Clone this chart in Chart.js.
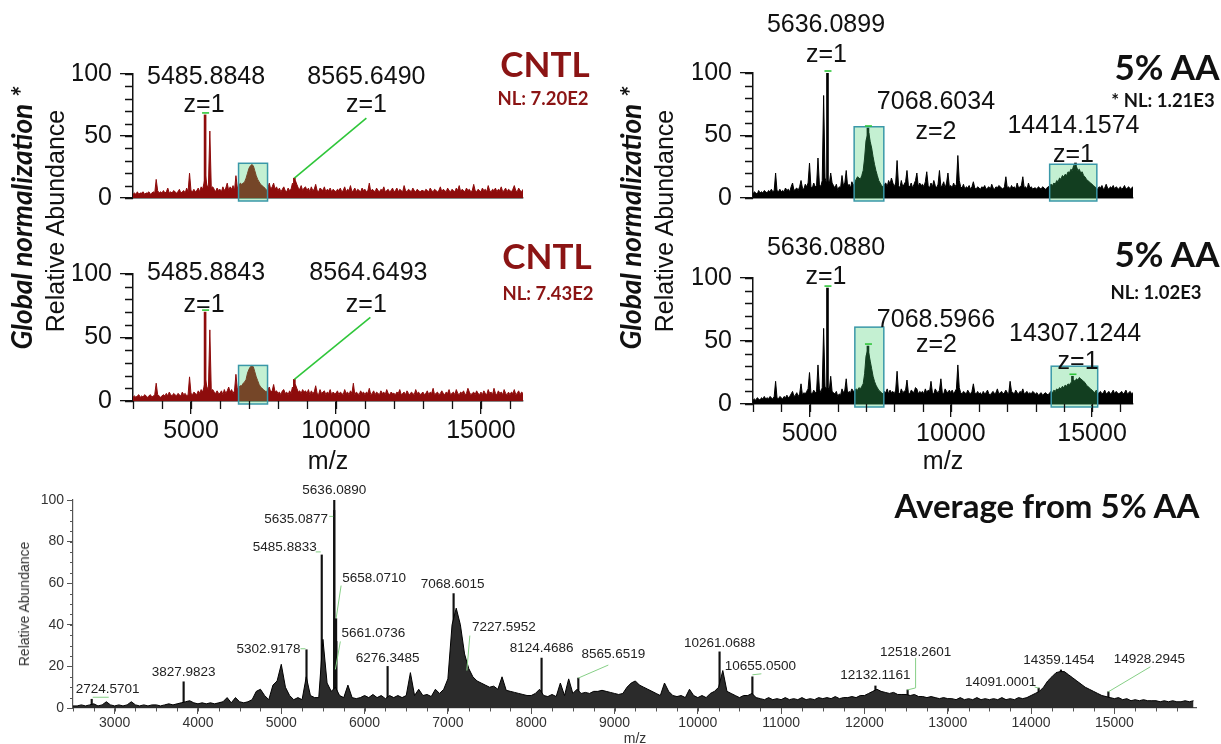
<!DOCTYPE html>
<html>
<head>
<meta charset="utf-8">
<script src="https://cdn.jsdelivr.net/npm/chart.js@4.4.1/dist/chart.umd.min.js"></script>
<style>
  body { margin: 0; background: #fff; width: 1221px; height: 744px; position: relative; overflow: hidden; font-family: "Liberation Sans", Arial, sans-serif; }
  canvas { position: absolute; }
  .lbl { position: absolute; white-space: nowrap; transform: translate(-50%, -50%); line-height: 1; color: #111; }
  .rot { transform: translate(-50%, -50%) rotate(-90deg); }
  .ttl { font-family: Lato, sans-serif; font-weight: 700; }
</style>
</head>
<body>
<canvas id="cntl1" width="600" height="225" style="left:0;top:0"></canvas>
<canvas id="cntl2" width="600" height="255" style="left:0;top:215px"></canvas>
<canvas id="aa1" width="611" height="225" style="left:610px;top:0"></canvas>
<canvas id="aa2" width="611" height="255" style="left:610px;top:215px"></canvas>
<canvas id="avg" width="1221" height="274" style="left:0;top:470px"></canvas>

<div class="lbl rot ttl" style="left:21px;top:218px;font-size:28px;font-style:italic">Global normalization *</div>
<div class="lbl rot" style="left:55px;top:221px;font-size:25px">Relative Abundance</div>
<div class="lbl rot ttl" style="left:630px;top:218px;font-size:28px;font-style:italic">Global normalization *</div>
<div class="lbl rot" style="left:664px;top:221px;font-size:25px">Relative Abundance</div>

<div class="lbl ttl" style="left:545px;top:63px;font-size:35px;color:#8b1414">CNTL</div>
<div class="lbl ttl" style="left:543px;top:98px;font-size:18.5px;color:#8b1414">NL: 7.20E2</div>
<div class="lbl ttl" style="left:547px;top:255px;font-size:35px;color:#8b1414">CNTL</div>
<div class="lbl ttl" style="left:548px;top:293px;font-size:18.5px;color:#8b1414">NL: 7.43E2</div>
<div class="lbl ttl" style="left:1167px;top:66px;font-size:35px">5% AA</div>
<div class="lbl ttl" style="left:1163px;top:100px;font-size:18.5px">* NL: 1.21E3</div>
<div class="lbl ttl" style="left:1156px;top:292px;font-size:18.5px">NL: 1.02E3</div>
<div class="lbl ttl" style="left:1167px;top:253px;font-size:35px">5% AA</div>
<div class="lbl" style="left:328px;top:460px;font-size:25px">m/z</div>
<div class="lbl" style="left:943px;top:460px;font-size:25px">m/z</div>

<div class="lbl ttl" style="left:1047px;top:505px;font-size:33px">Average from 5% AA</div>
<div class="lbl rot" style="left:24px;top:604px;font-size:14px;color:#333">Relative Abundance</div>
<div class="lbl" style="left:635px;top:738px;font-size:14px;color:#333">m/z</div>

<script>
// profile traces are sampled every 50 m/z
const PANEL_MZ_START = 3000;
const PANEL_MZ_STEP = 50;
const AVG_MZ_START = 2500;
const AVG_MZ_STEP = 50;

const panelTicksX = [5000, 10000, 15000];
const panelTicksY = [0, 50, 100];
const avgTicksX = [3000, 4000, 5000, 6000, 7000, 8000, 9000, 10000, 11000, 12000, 13000, 14000, 15000];
const avgTicksY = [0, 20, 40, 60, 80, 100];

// CNTL, replicate 1
const cntl1Int = [
  3,4,3,5,3,4,4,5,3,4, 4,5,3,4,5,4,15,6,4,5,          // 3000
  4,6,4,5,8,4,5,4,6,5, 4,5,7,4,5,6,4,8,5,20,          // 4000
  6,5,7,5,6,8,5,9,7,12, 18,10,9,54,8,9,7,5,8,6,       // 5000
  7,5,9,6,8,12,6,9,7,10, 6,18,8,10,12,11,12,13,16,20, // 6000
  24,26,27,26,22,18,15,13,11,10, 9,8,6,8,12,7,9,12,7,9, // 7000
  6,8,5,7,9,6,5,8,6,7, 12,9,14,11,8,7,10,6,8,9,       // 8000
  6,8,5,9,6,7,11,6,5,8, 7,6,9,5,7,6,8,5,7,6,          // 9000
  5,7,6,8,5,6,9,5,7,6, 10,5,6,8,5,7,6,5,8,6,          // 10000
  7,5,6,12,5,7,6,5,8,6, 5,7,6,9,5,6,7,5,6,8,          // 11000
  5,6,8,5,7,6,5,10,6,5, 7,6,5,8,6,5,7,6,5,6,          // 12000
  6,5,7,6,5,8,6,5,7,6, 5,6,9,5,7,6,5,8,6,5,           // 13000
  7,6,5,8,6,10,5,7,6,5, 8,6,7,5,6,11,6,5,7,6,         // 14000
  5,8,6,7,5,10,6,5,7,6, 8,5,7,6,9,5,6,8,5,7,          // 15000
  6,5,7,10,6,5,8,6,5,7                                // 16000
];
const cntl1PeakMz = [5485.8848, 8565.6490];
const cntl1PeakInt = [67, 16];
const cntl1Charge = [1, 1];

// CNTL, replicate 2
const cntl2Int = [
  3,4,3,4,5,3,4,3,5,4, 3,4,5,3,4,5,14,5,4,3,          // 3000
  4,5,4,6,4,7,5,4,6,5, 4,6,5,4,7,5,6,4,5,19,          // 4000
  6,5,7,6,5,8,6,9,7,11, 17,11,9,56,8,9,7,6,8,6,       // 5000
  6,8,5,9,6,8,11,7,9,6, 8,21,9,11,12,12,14,15,17,22,  // 6000
  25,27,28,27,23,19,16,13,11,10, 9,8,7,9,11,7,8,13,7,8, // 7000
  6,7,5,8,9,6,7,5,8,6, 11,9,13,10,7,8,6,9,7,8,        // 8000
  6,9,5,8,6,7,12,6,5,9, 6,7,8,5,7,6,9,5,7,6,          // 9000
  6,8,5,7,6,5,9,6,7,5, 8,6,14,5,7,6,5,8,6,7,          // 10000
  5,7,6,10,5,6,8,5,7,6, 5,8,6,7,5,9,6,5,7,6,          // 11000
  6,5,7,6,9,5,6,7,5,8, 6,5,7,6,5,9,6,7,5,6,           // 12000
  7,5,6,8,5,7,6,10,5,6, 7,5,6,8,6,5,7,6,9,5,          // 13000
  6,7,5,9,6,5,7,6,8,5, 6,10,7,5,6,7,5,8,6,5,          // 14000
  7,5,8,6,5,9,6,7,5,10, 6,5,8,6,7,5,9,6,5,7,          // 15000
  5,7,6,9,5,6,8,5,7,6                                 // 16000
];
const cntl2PeakMz = [5485.8843, 8564.6493];
const cntl2PeakInt = [70, 17];
const cntl2Charge = [1, 1];

// 5% AA, replicate 1
const aa1Int = [
  3,5,4,3,6,4,5,4,6,5, 4,6,5,7,5,6,20,6,5,7,          // 3000
  5,6,5,8,6,7,5,9,12,6, 7,8,6,9,14,8,7,11,9,12,       // 4000
  28,9,8,12,9,10,32,11,9,14, 82,16,12,14,11,20,12,10,8,11, // 5000
  6,9,8,18,10,12,22,9,11,8, 13,10,12,15,17,16,15,18,22,32, // 6000
  46,50,52,45,40,33,27,22,18,14, 12,10,9,11,12,9,14,11,16,12, // 7000
  9,12,30,10,8,14,9,11,13,22, 10,9,12,8,11,14,20,9,12,10, // 8000
  11,9,13,21,10,8,12,9,14,10, 8,11,22,9,10,13,8,12,20,9, // 9000
  10,8,12,9,11,34,14,9,8,11, 7,9,8,10,7,9,13,8,7,9,   // 10000
  8,7,9,8,10,7,8,9,7,11, 8,7,9,8,10,9,8,7,9,17,       // 11000
  8,9,7,10,8,9,7,12,8,9, 10,17,8,9,7,12,8,9,7,8,      // 12000
  8,7,9,8,7,9,8,7,8,9, 10,11,10,12,11,14,13,16,15,18, // 13000
  17,19,18,21,20,23,22,26,24,25, 22,23,20,21,18,17,15,14,13,12, // 14000
  11,10,9,8,7,9,8,10,7,8, 11,8,7,9,8,10,7,9,8,7,      // 15000
  9,7,8,10,7,8,9,7,8,9                                // 16000
];
const aa1PeakMz = [5636.0899, 7068.6034, 14414.1574];
const aa1PeakInt = [100, 56, 28];
const aa1Charge = [1, 2, 1];

// 5% AA, replicate 2
const aa2Int = [
  3,4,3,5,4,3,5,4,6,4, 5,4,6,5,4,6,18,5,4,6,          // 3000
  5,4,6,5,7,5,6,8,10,6, 7,9,6,8,16,7,9,8,10,12,       // 4000
  25,9,8,11,9,10,31,12,9,13, 60,14,12,13,11,22,10,9,8,10, // 5000
  6,8,7,12,9,11,20,8,10,9, 12,10,11,12,11,13,12,14,16,24, // 6000
  38,42,40,34,28,22,18,15,13,11, 10,9,8,10,9,12,8,11,9,10, // 7000
  8,11,26,9,8,12,9,10,11,19, 9,8,11,10,9,13,12,8,10,9, // 8000
  10,8,12,9,11,10,18,9,8,12, 10,9,11,20,9,8,12,10,9,11, // 9000
  9,11,8,10,12,31,13,9,8,10, 9,8,11,9,8,10,16,9,8,10, // 10000
  8,9,7,10,8,9,11,8,7,9, 10,8,9,12,8,9,10,8,9,11,     // 11000
  9,8,18,10,9,8,11,9,8,10, 9,12,8,9,10,8,9,8,10,9,    // 12000
  8,9,7,8,9,7,8,9,8,7, 9,10,9,11,10,12,11,13,12,14,   // 13000
  13,15,14,16,15,17,16,19,18,20, 19,21,20,19,18,17,15,14,13,12, // 14000
  11,10,9,11,8,9,10,8,9,11, 8,9,10,8,9,11,8,10,9,8,   // 15000
  9,10,8,9,11,8,9,10,8,9                              // 16000
];
const aa2PeakMz = [5636.0880, 7068.5966, 14307.1244];
const aa2PeakInt = [92, 46, 22];
const aa2Charge = [1, 2, 1];

// averaged 5% AA spectrum
const avgInt = [
  1,1,1.5,1,1.5,2,1,1.5,3,1.5, 1,1.5,1,1.5,3,1.5,1,1.5,1,1.5,        // 2500
  1.5,1,1.5,2,1.5,2,2.5,3,3.5,2.5, 2,2.5,2,2.5,2,2.5,3,5,2.5,5,      // 3500
  3,2.5,3,4,8,9,6,4,11,13, 21,10,6,4,5,4,15,6,5,5,                   // 4500
  33,12,8,10,6,5,11,5,4.5,5, 6,5,6.5,5,6,4.5,6,5,6,5,                // 5500
  6,17,6,9,6,6.5,5.5,9,7,9, 14,40,48,40,26,19,15,13,12,11,           // 6500
  10,10.5,9,15,8.5,8,7.5,7,6.5,6, 6,7,9,6,5.5,6.5,5.5,12,6,14,       // 7500
  7,9,7,7.5,7,8,8,8.5,8,7.5, 7,6.5,7,10,12,13,11,10,9,8,             // 8500
  7,6,12,8,6,5.5,6,5,9,6, 5,6,5,7,8,10,18,8,7,6,                     // 9500
  5,6,6,7,5,4.5,4,5,4,4.5, 4,5,4,4.5,4,5,4,4.5,4,5,                  // 10500
  4.5,5,4.5,5.5,4.5,5,5,5.5,5,6, 6,7,8,9,8,7.5,7,7.5,6.5,6.5,        // 11500
  6.5,6,6.5,5.5,5.5,5,5.5,5,4.5,5, 4.5,4.5,4,5,4,4.5,4,5,4,4.5,      // 12500
  4,4.5,4,5,4,4.5,4,5,4.5,5, 6,7,8,10,13,15,17,17.5,17.5,16,         // 13500
  14.5,13,11.5,10,9,8,7,6,5.5,5, 4.5,5,4,4.5,3.5,4,3.5,4,3.5,3.5,    // 14500
  3.5,3,3.5,3,3.5,3,3,3.5,3,3.5                                      // 15500
];
const avgPeakMz = [2724.5701, 3827.9823, 5302.9178, 5485.8833, 5635.0877, 5636.0890, 5658.0710,
  5661.0736, 6276.3485, 7068.6015, 7227.5952, 8124.4686, 8565.6519, 10261.0688, 10655.0500,
  12132.1161, 12518.2601, 14091.0001, 14359.1454, 14928.2945];
const avgPeakInt = [4.2, 12.6, 28, 73.6, 95, 100, 43, 32, 20, 55, 18, 24, 14.4, 27, 15, 10.6, 8.7, 9.6, 18.3, 7.8];

// label placement, in px from the apex of each peak
const cntl1Notes = [
  { peak: 0, text: [1, -38], z: [-1, -10], mark: true },
  { peak: 1, text: [72, -101], z: [72, -73], leader: [[0, 0], [72, -60]] }
];
const cntl2Notes = [
  { peak: 0, text: [1, -39], z: [-1, -7], mark: true },
  { peak: 1, text: [74, -106], z: [72, -74], leader: [[0, 0], [76, -62]] }
];
const aa1Notes = [
  { peak: 0, text: [-1.5, -48], z: [-1, -18], mark: true },
  { peak: 1, text: [68, -26], z: [68, 4], mark: true },
  { peak: 2, text: [-2, -37], z: [-2, -8] }
];
const aa2Notes = [
  { peak: 0, text: [-1.5, -40], z: [-1.5, -11], mark: true },
  { peak: 1, text: [68, -26], z: [68.5, -1], mark: true },
  { peak: 2, text: [2.6, -42], z: [5.6, -14], mark: true }
];
const avgNotes = [
  { peak: 0, text: [16, -10], leader: [[1, -2], [17, -2]] },
  { peak: 1, text: [0, -10] },
  { peak: 2, text: [-38, 0], leader: [[-6, -1], [-1, -1]] },
  { peak: 3, text: [-37, -8], leader: [[-6, -3], [-1, -3]] },
  { peak: 4, text: [-38, 9], leader: [[-5, 6], [-1, 6]] },
  { peak: 5, text: [0, -10] },
  { peak: 6, text: [38, -40], leader: [[0, 0], [5, -33]] },
  { peak: 7, text: [37, -8], leader: [[-1, 28], [4, 0]] },
  { peak: 8, text: [0, -8] },
  { peak: 9, text: [-1, -9] },
  { peak: 10, text: [37, -43], leader: [[0, 0], [3, -35]] },
  { peak: 11, text: [0, -10] },
  { peak: 12, text: [35, -24], leader: [[0, 0], [30, -13]] },
  { peak: 13, text: [0, -9] },
  { peak: 14, text: [8, -11], leader: [[0, -2], [9, -3]] },
  { peak: 15, text: [0, -11] },
  { peak: 16, text: [8, -38], leader: [[0, 0], [8, -2], [8, -32]] },
  { peak: 17, text: [-38, -6], leader: [[-4, -1], [0, 0]] },
  { peak: 18, text: [-2, -10] },
  { peak: 19, text: [41, -32], leader: [[0, 0], [42, -25]] }
];

// highlighted m/z windows
const cntl1Boxes = [{ from: 6640, to: 7640, top: 28 }];
const cntl2Boxes = [{ from: 6640, to: 7640, top: 28 }];
const aa1Boxes = [{ from: 6580, to: 7630, top: 57 }, { from: 13500, to: 15170, top: 27 }];
const aa2Boxes = [{ from: 6605, to: 7630, top: 61 }, { from: 13555, to: 15200, top: 30 }];

const SANS = '"Liberation Sans", Arial, sans-serif';
Chart.defaults.font.family = SANS;

// short tick marks between the labelled ones
const axisTicks = {
  id: 'axisTicks',
  afterDraw(chart, args, opts) {
    const { ctx, chartArea: a, scales: { x, y } } = chart;
    ctx.save();
    ctx.strokeStyle = opts.color;
    ctx.lineWidth = opts.width;
    ctx.beginPath();
    if (opts.xStep) {
      for (let v = Math.ceil(x.min / opts.xStep) * opts.xStep; v <= x.max; v += opts.xStep) {
        const px = Math.round(x.getPixelForValue(v)) + 0.5;
        ctx.moveTo(px, a.bottom);
        ctx.lineTo(px, a.bottom + opts.xLen);
      }
    }
    for (let v = Math.ceil(y.min / opts.yStep) * opts.yStep; v <= y.max; v += opts.yStep) {
      const py = Math.round(y.getPixelForValue(v)) + 0.5;
      ctx.moveTo(a.left, py);
      ctx.lineTo(a.left - opts.yLen, py);
    }
    ctx.stroke();
    ctx.restore();
  }
};

// green windows, peak labels and leader lines
const peakNotes = {
  id: 'peakNotes',
  afterDatasetsDraw(chart, args, opts) {
    const { ctx, scales: { x, y } } = chart;
    (opts.boxes || []).forEach(b => {
      const l = x.getPixelForValue(b.from), r = x.getPixelForValue(b.to);
      const t = y.getPixelForValue(b.top), bt = y.getPixelForValue(0) + 3;
      ctx.save();
      ctx.fillStyle = 'rgba(60, 205, 105, 0.3)';
      ctx.fillRect(l, t, r - l, bt - t);
      ctx.strokeStyle = '#3a98a8';
      ctx.lineWidth = 1.5;
      ctx.strokeRect(l, t, r - l, bt - t);
      ctx.restore();
    });
  },
  afterDraw(chart, args, opts) {
    const { ctx, scales: { x, y } } = chart;
    ctx.save();
    ctx.font = opts.font;
    ctx.fillStyle = opts.textColor;
    ctx.textAlign = 'center';
    ctx.textBaseline = 'middle';
    opts.notes.forEach(n => {
      const px = x.getPixelForValue(opts.mz[n.peak]);
      const py = y.getPixelForValue(opts.intensity[n.peak]);
      ctx.strokeStyle = opts.leaderColor;
      ctx.lineWidth = opts.leaderWidth;
      if (n.leader) {
        ctx.beginPath();
        n.leader.forEach(([dx, dy], k) => k ? ctx.lineTo(px + dx, py + dy) : ctx.moveTo(px + dx, py + dy));
        ctx.stroke();
      }
      if (n.mark) {
        ctx.beginPath();
        ctx.moveTo(px - 3, py - 2);
        ctx.lineTo(px + 4, py - 2);
        ctx.stroke();
      }
      ctx.fillText(opts.mz[n.peak].toFixed(4), px + n.text[0], py + n.text[1]);
      if (n.z) ctx.fillText('z=' + opts.charge[n.peak], px + n.z[0], py + n.z[1]);
    });
    ctx.restore();
  }
};

function panel(id, o) {
  const profile = o.values.map((v, i) => ({ x: PANEL_MZ_START + i * PANEL_MZ_STEP, y: v }));
  const sticks = o.peakMz.map((m, i) => ({ x: m, y: o.peakInt[i] }));
  return new Chart(document.getElementById(id), {
    type: 'line',
    data: {
      datasets: [
        { data: profile, borderColor: o.color, backgroundColor: o.color, borderWidth: 1,
          pointRadius: 0, fill: 'origin', tension: 0 },
        { type: 'bar', data: sticks, backgroundColor: o.color, barThickness: 2 }
      ]
    },
    options: {
      responsive: false, animation: false, events: [], devicePixelRatio: 1,
      layout: { padding: o.pad },
      plugins: {
        legend: { display: false }, tooltip: { enabled: false },
        axisTicks: { color: '#111', width: 1.3, xStep: o.xLabels ? 1000 : 0, xLen: 8, yStep: 10, yLen: 8 },
        peakNotes: { boxes: o.boxes, notes: o.notes, mz: o.peakMz, intensity: o.peakInt, charge: o.charge,
          font: '25px ' + SANS, textColor: '#111', leaderColor: '#2fc63a', leaderWidth: 1.6 }
      },
      scales: {
        x: {
          type: 'linear', min: 3000, max: 16450, offset: false,
          // the axis box must cover half a y label plus its padding, or the plot bottom moves up
          afterFit: s => { s.height = o.xLabels ? 40 : 24; },
          afterBuildTicks: s => { s.ticks = panelTicksX.map(v => ({ value: v })); },
          border: { display: true, color: '#111', width: 1.5 },
          grid: { display: o.xLabels, drawOnChartArea: false, offset: false, tickLength: 13, color: '#111', lineWidth: 1.3 },
          ticks: { display: o.xLabels, font: { size: 25 }, color: '#111', padding: 2, maxRotation: 0, autoSkip: false,
            callback: v => String(v) }
        },
        y: {
          min: 0, max: 100,
          afterFit: s => { s.width = 60; },
          afterBuildTicks: s => { s.ticks = panelTicksY.map(v => ({ value: v })); },
          border: { display: true, color: '#111', width: 1.5 },
          grid: { drawOnChartArea: false, tickLength: 13, color: '#111', lineWidth: 1.3 },
          ticks: { font: { size: 25 }, color: '#111', padding: 8, callback: v => String(v) }
        }
      }
    },
    plugins: [axisTicks, peakNotes]
  });
}

const RED = '#8e0c0c';
panel('cntl1', { values: cntl1Int, peakMz: cntl1PeakMz, peakInt: cntl1PeakInt, charge: cntl1Charge,
  notes: cntl1Notes, boxes: cntl1Boxes, color: RED, xLabels: false,
  pad: { left: 73, right: 77, top: 74, bottom: 3 } });
panel('cntl2', { values: cntl2Int, peakMz: cntl2PeakMz, peakInt: cntl2PeakInt, charge: cntl2Charge,
  notes: cntl2Notes, boxes: cntl2Boxes, color: RED, xLabels: true,
  pad: { left: 73, right: 77, top: 59, bottom: 29 } });
panel('aa1', { values: aa1Int, peakMz: aa1PeakMz, peakInt: aa1PeakInt, charge: aa1Charge,
  notes: aa1Notes, boxes: aa1Boxes, color: '#000', xLabels: false,
  pad: { left: 83, right: 88, top: 73, bottom: 3 } });
panel('aa2', { values: aa2Int, peakMz: aa2PeakMz, peakInt: aa2PeakInt, charge: aa2Charge,
  notes: aa2Notes, boxes: aa2Boxes, color: '#000', xLabels: true,
  pad: { left: 83, right: 88, top: 63, bottom: 26 } });

// averaged spectrum across the full width
new Chart(document.getElementById('avg'), {
  type: 'line',
  data: {
    datasets: [
      { data: avgInt.map((v, i) => ({ x: AVG_MZ_START + i * AVG_MZ_STEP, y: v })),
        borderColor: '#000', backgroundColor: '#2b2b2b', borderWidth: 1, pointRadius: 0, fill: 'origin', tension: 0 },
      { type: 'bar', data: avgPeakMz.map((m, i) => ({ x: m, y: avgPeakInt[i] })), backgroundColor: '#111', barThickness: 1.5 }
    ]
  },
  options: {
    responsive: false, animation: false, events: [], devicePixelRatio: 1,
    layout: { padding: { left: 23, right: 25, top: 30, bottom: 12 } },
    plugins: {
      legend: { display: false }, tooltip: { enabled: false },
      axisTicks: { color: '#555', width: 1, xStep: 250, xLen: 3.5, yStep: 5, yLen: 3 },
      peakNotes: { notes: avgNotes, mz: avgPeakMz, intensity: avgPeakInt,
        font: '13.5px ' + SANS, textColor: '#222', leaderColor: '#86cf86', leaderWidth: 1 }
    },
    scales: {
      x: {
        type: 'linear', min: 2500, max: 15980, offset: false,
        afterFit: s => { s.height = 24; },
        afterBuildTicks: s => { s.ticks = avgTicksX.map(v => ({ value: v })); },
        border: { display: true, color: '#555', width: 1.2 },
        grid: { drawOnChartArea: false, offset: false, tickLength: 6, color: '#555' },
        ticks: { font: { size: 14 }, color: '#333', padding: 1, maxRotation: 0, autoSkip: false, callback: v => String(v) }
      },
      y: {
        min: 0, max: 100,
        afterFit: s => { s.width = 50; },
        afterBuildTicks: s => { s.ticks = avgTicksY.map(v => ({ value: v })); },
        border: { display: true, color: '#555', width: 1.2 },
        grid: { drawOnChartArea: false, tickLength: 6, color: '#555' },
        ticks: { font: { size: 14 }, color: '#333', padding: 3, callback: v => String(v) }
      }
    }
  },
  plugins: [axisTicks, peakNotes]
});
</script>
</body>
</html>
